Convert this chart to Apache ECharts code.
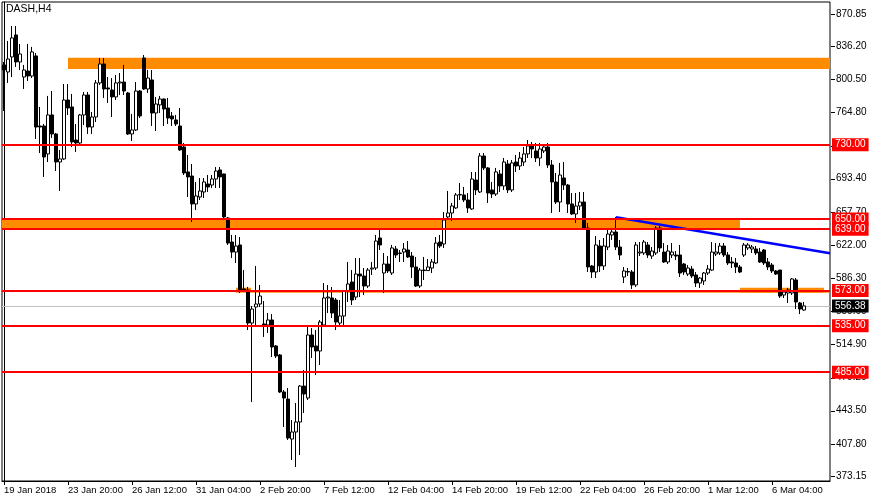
<!DOCTYPE html>
<html><head><meta charset="utf-8">
<script src="https://cdn.jsdelivr.net/npm/echarts@6/dist/echarts.min.js"></script>
<style>html,body{margin:0;padding:0;background:#fff}#c{width:870px;height:500px}</style>
</head><body><div id="c"></div>
<script>
const symbolName = 'DASH,H4';
const tickLabels = ['19 Jan 2018','23 Jan 20:00','26 Jan 12:00','31 Jan 04:00','2 Feb 20:00','7 Feb 12:00','12 Feb 04:00','14 Feb 20:00','19 Feb 12:00','22 Feb 04:00','26 Feb 20:00','1 Mar 12:00','6 Mar 04:00'];
const labelEvery = 16;
// [open, close, low, high]
const bars = [
[816.0,810.6,766.4,819.2],[808.4,822.4,796.6,841.8],[824.6,845.1,803.0,858.0],[848.3,819.2,813.8,858.0],[819.2,827.8,810.6,838.6],
[803.0,810.6,790.1,816.0],[809.5,804.1,798.7,838.6],[804.1,830.0,801.9,835.4],[825.7,749.1,736.2,828.9],[750.2,749.1,721.1,770.7],
[750.2,716.8,695.3,752.4],[720.1,762.1,711.4,782.6],[762.1,741.6,737.3,787.9],[741.6,711.4,701.7,742.7],[711.4,714.7,680.2,724.4],
[714.7,778.2,713.6,795.5],[778.2,769.6,762.1,795.5],[770.7,733.0,727.6,784.7],[735.1,731.9,722.2,752.4],[731.9,762.1,729.8,763.2],
[762.1,783.6,751.3,786.9],[783.6,749.1,741.6,786.9],[749.1,759.9,741.6,765.3],[759.9,796.6,754.5,799.8],[796.6,817.0,794.4,823.5],
[817.0,790.1,780.4,823.5],[791.2,790.1,775.0,803.0],[789.0,781.5,759.9,801.9],[781.5,796.6,778.2,805.2],[796.6,797.6,783.6,807.3],
[797.6,787.9,783.6,816.0],[785.8,741.6,740.5,786.9],[741.6,745.9,734.1,763.2],[745.9,787.9,744.8,797.6],[787.9,761.0,758.8,789.0],
[823.5,790.1,789.0,826.7],[790.1,801.9,785.8,810.6],[799.8,764.2,750.2,810.6],[764.2,773.9,744.8,781.5],[772.9,779.3,764.2,782.6],
[779.3,768.5,750.2,779.8],[769.6,758.8,752.4,780.4],[761.0,757.8,750.2,765.3],[756.7,752.4,750.2,762.1],[750.2,724.4,723.5,769.6],
[727.6,699.6,697.4,731.9],[700.7,695.3,673.7,719.0],[696.3,666.2,646.8,709.3],[666.2,674.8,659.7,689.9],[673.7,680.2,670.5,694.2],
[679.1,689.9,672.6,694.2],[687.7,684.5,679.1,697.4],[686.6,693.1,683.4,697.4],[693.1,701.7,683.4,706.0],[702.8,695.3,683.4,706.0],
[698.5,652.2,651.1,698.9],[651.1,624.1,622.0,652.2],[625.2,614.4,608.0,632.8],[614.4,620.9,602.6,632.8],[622.0,573.5,570.3,630.6],
[574.6,573.5,571.3,595.0],[573.5,537.9,530.4,576.7],[537.9,553.0,452.8,556.3],[555.2,558.4,533.6,599.4],[558.4,567.0,555.2,578.9],
[536.9,535.8,522.9,561.6],[535.8,541.2,527.2,548.7],[541.2,512.1,501.3,547.6],[513.2,502.4,500.2,514.2],[503.5,463.6,462.5,504.5],
[463.6,457.1,425.9,465.7],[456.0,414.0,411.9,467.9],[412.9,420.5,390.3,433.4],[420.5,431.3,382.8,451.7],[431.3,470.0,395.7,471.1],
[470.0,461.4,441.0,487.3],[457.1,525.0,455.0,533.6],[525.0,512.1,500.2,532.5],[513.2,507.8,481.9,530.4],[507.8,539.0,492.7,541.2],
[535.8,564.9,533.6,581.0],[564.9,565.9,548.7,578.9],[564.9,548.7,543.3,576.7],[562.7,539.0,530.4,564.9],[537.9,545.5,534.7,562.7],
[545.5,572.4,535.8,573.5],[572.4,580.0,560.6,603.7],[582.1,562.7,557.3,595.0],[565.9,590.7,562.7,608.0],[590.7,588.6,565.9,608.0],
[588.6,577.8,568.1,597.2],[577.8,595.0,575.7,597.2],[596.1,597.2,589.7,603.7],[597.2,626.3,595.0,632.8],[629.5,622.0,616.6,638.2],
[591.8,601.5,570.3,613.4],[601.5,594.0,591.8,610.1],[591.8,618.8,589.7,622.0],[617.7,611.2,608.0,620.9],[612.8,613.4,603.7,616.6],
[614.4,617.7,603.7,624.1],[616.6,609.1,608.0,626.3],[610.1,598.3,586.4,614.4],[598.3,577.8,576.7,609.1],[577.8,595.0,575.7,597.2],
[595.0,594.4,584.3,609.1],[594.4,598.3,594.0,606.9],[597.2,603.7,591.8,606.9],[602.6,624.1,601.5,630.6],[625.2,620.9,618.8,632.8],
[623.1,648.9,618.8,657.5],[652.2,656.5,648.9,680.2],[656.5,664.0,647.9,667.3],[661.9,675.9,660.8,678.0],[675.9,676.4,670.5,688.8],
[675.9,670.5,668.3,684.5],[670.5,661.9,656.5,678.0],[660.8,693.1,659.7,700.7],[692.0,681.3,675.9,700.7],[679.1,717.9,678.0,721.1],
[717.9,705.0,702.8,721.1],[705.0,678.0,667.3,706.0],[681.3,676.9,672.6,689.9],[676.9,700.7,674.8,705.0],[698.5,685.6,679.1,702.8],
[685.6,711.4,681.3,715.7],[709.3,681.3,678.0,713.6],[681.3,710.4,679.1,713.6],[711.4,707.1,700.7,719.0],[707.1,715.7,702.8,722.2],
[711.4,720.1,707.1,727.6],[720.1,728.7,715.7,735.1],[728.7,725.4,715.7,733.0],[723.3,715.7,711.4,731.9],[715.7,725.4,707.1,731.9],
[723.3,727.6,721.1,730.8],[727.6,708.2,705.0,731.9],[708.2,689.9,656.5,713.6],[689.9,668.3,666.2,699.6],[668.3,697.4,657.5,710.4],
[694.2,686.6,681.3,711.4],[686.6,666.2,656.5,687.7],[666.2,655.4,654.3,678.0],[655.4,664.0,645.7,678.0],[664.0,668.3,659.7,679.1],
[668.3,640.3,638.2,679.1],[640.3,598.3,592.9,645.7],[599.4,592.9,586.4,600.4],[592.9,622.0,586.4,631.7],[620.9,599.4,592.9,627.4],
[599.4,620.9,595.0,629.5],[619.8,633.8,616.6,638.2],[632.8,636.0,627.4,640.3],[636.0,619.8,616.6,652.2],[619.8,611.2,605.8,627.4],
[587.5,594.0,581.0,598.3],[593.4,592.9,588.6,597.2],[592.9,578.9,574.6,595.0],[578.9,622.0,576.7,625.2],[613.4,614.4,610.1,625.2],
[613.4,625.2,611.2,627.4],[622.0,611.2,608.0,625.2],[610.1,615.5,606.9,619.8],[613.4,640.3,611.2,642.5],[640.3,618.8,614.4,642.5],
[614.4,603.7,602.6,624.1],[603.7,615.5,601.5,622.0],[611.2,614.4,608.0,624.1],[611.2,610.1,605.8,615.5],[611.2,591.8,587.5,622.0],
[601.5,592.9,589.7,602.6],[590.7,597.2,588.6,600.4],[596.1,588.6,586.4,599.4],[589.7,581.0,576.7,592.9],[581.0,586.4,575.7,587.5],
[583.2,591.8,578.9,592.9],[591.8,596.1,589.7,600.4],[595.0,614.4,594.0,625.2],[612.3,614.4,610.1,624.1],[613.4,620.9,611.2,624.1],
[620.9,611.2,609.1,624.1],[611.2,602.6,600.4,614.4],[603.7,602.6,597.2,609.1],[602.6,598.3,591.8,608.0],[598.3,592.9,591.8,600.4],
[611.2,622.0,609.1,624.1],[618.8,622.0,616.6,624.1],[617.7,619.8,613.4,622.0],[617.7,613.4,611.2,620.9],[614.4,603.7,602.6,618.8],
[616.6,602.6,600.4,617.7],[603.7,598.3,595.0,608.0],[600.4,594.0,591.8,602.6],[594.0,590.7,589.7,595.0],[595.0,567.0,564.9,595.0],
[568.1,571.3,564.9,573.5],[570.3,573.5,559.5,575.7],[570.3,585.4,568.1,586.4],[584.3,560.6,553.0,586.4],[559.5,553.0,547.6,560.6],
[551.9,556.38,551.0,560.6]
];
const emptySlots = 6;
const yTicks = [373.15,407.80,443.50,479.20,514.90,550.60,586.30,622.00,657.70,693.40,729.10,764.80,800.50,836.20,870.85];
const levels = [730, 650, 639, 573, 535, 485];
const lastPrice = 556.38;
// [fromBar, toBar, lowPrice, highPrice]
const zones = [[16,206.5,811.6,823.6],[-0.5,184,639,650],[58,61.75,571.7,576.0],[58,206.5,570.6,571.8],[184,205,570.6,576.0]];
const trendLine = [[153,651.8],[206.5,613.2]];
const yMin = 367.7, yMax = 883.8;

const N = bars.length + emptySlots;
const categories = [];
for (let i = 0; i < N; i++) {
  const k = i / labelEvery;
  categories.push(i % labelEvery === 0 && tickLabels[k] ? tickLabels[k] : '');
}
const FONT = '"Liberation Sans", Arial, sans-serif';
const showCat = (idx) => idx % labelEvery === 0 && categories[idx] !== '';

const chart = echarts.init(document.getElementById('c'), null, {renderer: 'canvas'});
chart.setOption({
  animation: false,
  backgroundColor: '#fff',
  title: {text: symbolName, left: 6, top: 4, padding: 0, textStyle: {fontSize: 10.5, fontWeight: 'normal', color: '#000', fontFamily: FONT}},
  grid: {left: 2, right: 40, top: 2, bottom: 19, show: true, borderColor: '#000', borderWidth: 1, backgroundColor: '#fff'},
  xAxis: [{
    type: 'category', data: categories, boundaryGap: true,
    axisLine: {show: true, lineStyle: {color: '#000', width: 1}},
    axisTick: {show: true, interval: showCat, alignWithLabel: true, length: 4, lineStyle: {color: '#000'}},
    axisLabel: {interval: showCat, align: 'left', fontSize: 9.5, color: '#000', margin: 4, fontFamily: FONT},
    splitLine: {show: false}
  }, {
    type: 'value', min: -0.5, max: N - 0.5, show: false
  }],
  yAxis: {
    type: 'value', position: 'right', min: yMin, max: yMax, scale: true,
    axisLine: {show: true, lineStyle: {color: '#000', width: 1}},
    axisTick: {show: false},
    axisLabel: {customValues: yTicks, formatter: v => v.toFixed(2), fontSize: 10, color: '#000', margin: 6, fontFamily: FONT},
    splitLine: {show: false}
  },
  series: [
    {
      type: 'line', xAxisIndex: 1, data: [], silent: true,
      markArea: {silent: true, z: 1, itemStyle: {color: '#FF8C00'},
        data: zones.map(z => [{coord: [z[0], z[2]]}, {coord: [z[1], z[3]]}])}
    },
    {
      type: 'line', xAxisIndex: 0, data: [], silent: true,
      markLine: {silent: true, z: 1, symbol: ['none','none'],
        lineStyle: {color: '#c0c0c0', width: 1, type: 'solid'},
        label: {position: 'end', distance: 2, backgroundColor: '#000', color: '#fff', fontSize: 10, fontFamily: FONT, padding: [1,3,1,3], lineHeight: 11, formatter: p => p.value.toFixed(2)},
        data: [{yAxis: lastPrice}]}
    },
    {
      type: 'candlestick', xAxisIndex: 0, data: bars, barWidth: 3, z: 2,
      itemStyle: {color: '#fff', color0: '#000', borderColor: '#000', borderColor0: '#000', borderWidth: 1}
    },
    {
      type: 'line', xAxisIndex: 1, data: trendLine, z: 4, showSymbol: false, silent: true,
      lineStyle: {color: '#0000ff', width: 2.5}
    },
    {
      type: 'line', xAxisIndex: 0, data: [], silent: true,
      markLine: {silent: true, z: 5, symbol: ['none','none'],
        lineStyle: {color: '#ff0000', width: 2, type: 'solid'},
        label: {position: 'end', distance: 2, backgroundColor: '#ff0000', color: '#fff', fontSize: 10, fontFamily: FONT, padding: [1,3,1,3], lineHeight: 11, formatter: p => p.value.toFixed(2)},
        data: levels.map(v => ({yAxis: v}))}
    },
    {
      type: 'custom', xAxisIndex: 1, silent: true, clip: false, z: 0,
      data: yTicks.map(v => [N - 0.5, v]),
      renderItem: (params, api) => {
        const p = api.coord([api.value(0), api.value(1)]);
        const y = Math.round(p[1]) + 0.5;
        return {type: 'line', shape: {x1: p[0] + 1, y1: y, x2: p[0] + 5, y2: y}, style: {stroke: '#000', lineWidth: 1}};
      }
    }
  ]
});
</script>
</body></html>
